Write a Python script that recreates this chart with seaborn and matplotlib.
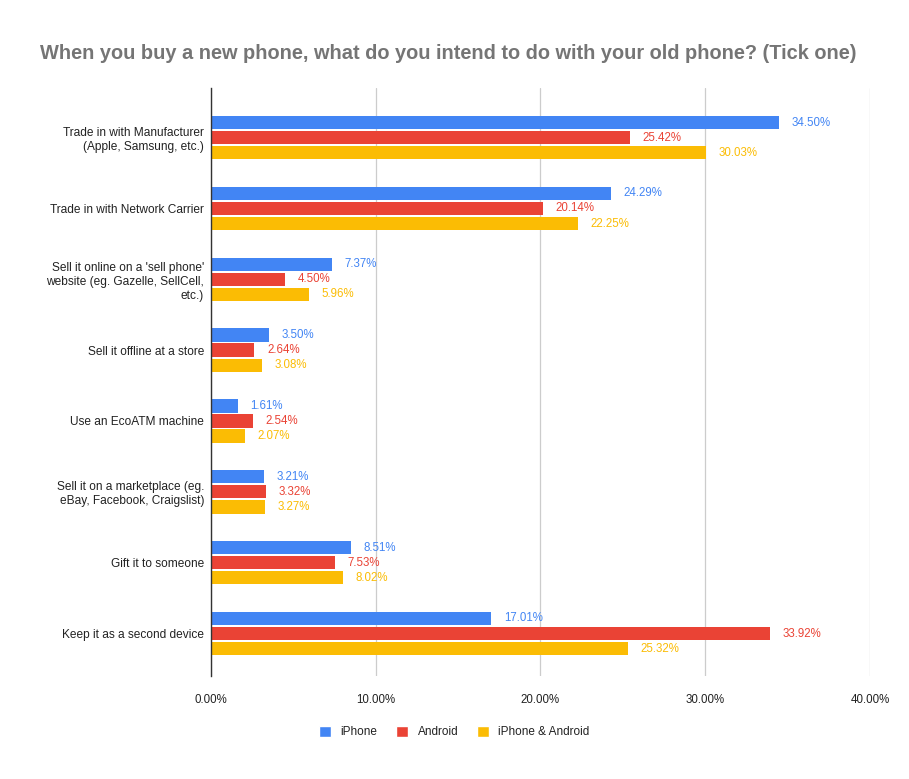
import pandas as pd
import seaborn as sns
import matplotlib.pyplot as plt
from matplotlib.patches import Patch
from matplotlib.ticker import FuncFormatter

# datos
categorias = [
    "Trade in with Manufacturer\n(Apple, Samsung, etc.)",
    "Trade in with Network Carrier",
    "Sell it online on a 'sell phone'\nwebsite (eg. Gazelle, SellCell,\netc.)",
    "Sell it offline at a store",
    "Use an EcoATM machine",
    "Sell it on a marketplace (eg.\neBay, Facebook, Craigslist)",
    "Gift it to someone",
    "Keep it as a second device",
]
series = ["iPhone", "Android", "iPhone & Android"]
iphone = [34.50, 24.29, 7.37, 3.50, 1.61, 3.21, 8.51, 17.01]
android = [25.42, 20.14, 4.50, 2.64, 2.54, 3.32, 7.53, 33.92]
ambos = [30.03, 22.25, 5.96, 3.08, 2.07, 3.27, 8.02, 25.32]
colores = ["#4285F4", "#EA4335", "#FBBC04"]

df = pd.DataFrame({
    "categoria": categorias * 3,
    "serie": [series[0]] * 8 + [series[1]] * 8 + [series[2]] * 8,
    "valor": iphone + android + ambos,
})

sns.set_style("white")
plt.rcParams["font.family"] = ["Liberation Sans", "DejaVu Sans"]

fig = plt.figure(figsize=(9.09, 7.79), dpi=100)
ax = fig.add_axes([0.2321, 0.1322, 0.7250, 0.7548])

sns.barplot(data=df, y="categoria", x="valor", hue="serie", order=categorias,
            hue_order=series, palette=colores, orient="h", width=0.64, gap=0.12,
            saturation=1, linewidth=0, legend=False, ax=ax)

# etiquetas de valores
for cont, col in zip(ax.containers, colores):
    etiquetas = [f"{v:.2f}%" for v in cont.datavalues]
    ax.bar_label(cont, labels=etiquetas, padding=9, color=col, fontsize=8.3)

ax.set_xlim(0, 40)
ax.set_ylim(7.6, -0.7)
ax.set_xticks([0, 10, 20, 30, 40])
ax.xaxis.set_major_formatter(FuncFormatter(lambda v, p: f"{v:.2f}%"))
ax.grid(axis="x", color="#cccccc", linewidth=0.9)
ax.set_axisbelow(True)
for s in ["top", "right", "bottom"]:
    ax.spines[s].set_visible(False)
ax.spines["left"].set_color("#333333")
ax.spines["left"].set_linewidth(1.0)
ax.spines["left"].set_zorder(5)
ax.tick_params(axis="both", length=0, labelsize=8.3, colors="#222222")
ax.tick_params(axis="y", labelsize=8.6, pad=5)
ax.tick_params(axis="x", pad=13)
ax.set_xlabel("")
ax.set_ylabel("")

fig.suptitle("When you buy a new phone, what do you intend to do with your old phone? (Tick one)",
             x=0.493, y=0.944, fontsize=14.4, fontweight="bold", color="#757575")

manejadores = [Patch(facecolor=c, label=s) for c, s in zip(colores, series)]
fig.legend(handles=manejadores, loc="center", bbox_to_anchor=(0.5, 0.06), ncol=3,
           frameon=False, fontsize=8.5, handlelength=1.0, handleheight=1.0,
           handletextpad=0.8, columnspacing=1.6, labelcolor="#222222")

fig.savefig("out.png", dpi=100, facecolor="white")
